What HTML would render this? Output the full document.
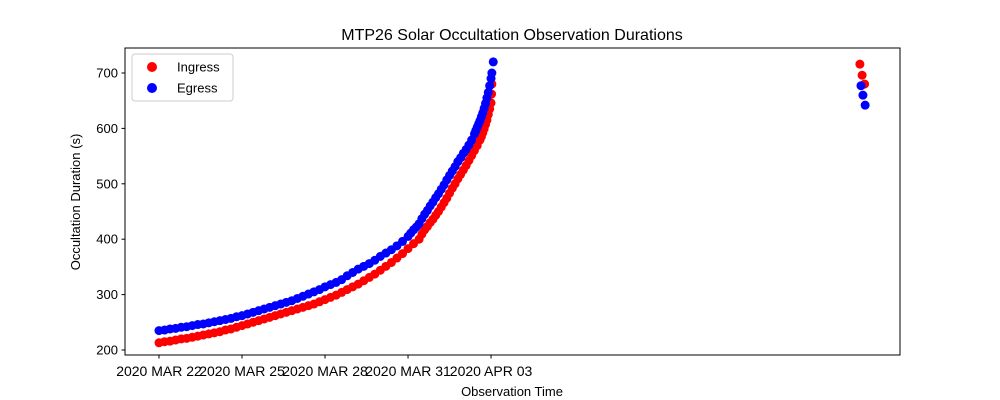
<!DOCTYPE html>
<html><head><meta charset="utf-8"><style>
body{margin:0;background:#fff;}
svg{display:block;font-family:"Liberation Sans","DejaVu Sans",sans-serif;}
</style></head><body>
<svg id="chart" width="1000" height="400">
<rect x="0" y="0" width="1000" height="400" fill="#fff"/>
<text x="512" y="40" font-size="16" text-anchor="middle">MTP26 Solar Occultation Observation Durations</text>
<text x="512" y="396" font-size="13" text-anchor="middle">Observation Time</text>
<text transform="translate(80,202) rotate(-90)" font-size="13" text-anchor="middle">Occultation Duration (s)</text>
<g id="marks"></g>
<g id="axes"></g>
<g>
<rect x="132" y="54" width="101" height="47" rx="3" fill="#fff" fill-opacity="0.8" stroke="#ccc"/>
<circle cx="152" cy="67" r="5" fill="red"/>
<text x="177" y="71.5" font-size="13">Ingress</text>
<circle cx="152" cy="88" r="5" fill="blue"/>
<text x="177" y="92.5" font-size="13">Egress</text>
</g>
</svg>
<script>
// days since 2020 MAR 22
const ingressDays=[0,.2,.4,.6,.8,1,1.2,1.4,1.6,1.8,2,2.2,2.4,2.6,2.8,3,3.2,3.4,3.6,3.8,4,4.2,4.4,4.6,4.8,5,5.2,5.4,5.6,5.8,6,6.2,6.4,6.6,6.8,7,7.2,7.4,7.6,7.8,8,8.2,8.4,8.6,8.8,9,9.2,9.4,9.5,9.6,9.7,9.8,9.9,10,10.1,10.2,10.3,10.4,10.5,10.6,10.7,10.8,10.9,11,11.1,11.2,11.3,11.4,11.5,11.6,11.65,11.7,11.75,11.8,11.85,11.9,11.95,12,12.02,12.03,25.33,25.41,25.5];
const ingressValues=[213,215,216,218,220,221,223,225,227,229,231,233,236,238,241,244,247,250,253,256,259,262,265,268,271,274,277,280,283,287,291,295,299,304,309,314,319,325,331,337,344,351,358,366,374,383,392,400,409,417,423,430,436,443,450,458,466,474,483,492,500,509,517,525,533,542,551,560,569,579,585,592,599,607,615,625,635,646,662,680,716,696,680];
const egressDays=[0,.2,.4,.6,.8,1,1.2,1.4,1.6,1.8,2,2.2,2.4,2.6,2.8,3,3.2,3.4,3.6,3.8,4,4.2,4.4,4.6,4.8,5,5.2,5.4,5.6,5.8,6,6.2,6.4,6.6,6.8,7,7.2,7.4,7.6,7.8,8,8.2,8.4,8.6,8.8,9,9.1,9.2,9.3,9.4,9.5,9.6,9.7,9.8,9.9,10,10.1,10.2,10.3,10.4,10.5,10.6,10.7,10.8,10.9,11,11.1,11.2,11.3,11.4,11.45,11.5,11.55,11.6,11.65,11.7,11.75,11.8,11.85,11.9,11.95,12,12.03,12.08,25.37,25.44,25.52];
const egressValues=[235,236,238,239,241,242,244,246,247,249,251,253,255,257,260,262,265,268,271,274,277,280,283,286,289,293,297,301,305,309,314,318,322,327,334,340,346,351,356,362,369,375,381,388,396,405,411,417,422,428,437,445,452,460,467,475,482,490,498,507,515,523,531,540,547,555,562,570,579,590,596,602,608,614,621,628,636,645,655,665,677,690,700,720,677,660,642];
const yTicks=[200,300,400,500,600,700];
const xTickDays=[0,3,6,9,12];
const xTickLabels=["2020 MAR 22","2020 MAR 25","2020 MAR 28","2020 MAR 31","2020 APR 03"];

const NS="http://www.w3.org/2000/svg";
const X0=125,X1=900,Y0=48,Y1=355;
function xScale(d){return 159+d*27.67;}
function yScale(v){return 73+(700-v)*0.554;}
function mk(tag,attrs,parent){const e=document.createElementNS(NS,tag);for(const k in attrs)e.setAttribute(k,attrs[k]);parent.appendChild(e);return e;}
const marks=document.getElementById('marks');
ingressDays.forEach((d,i)=>{
  const c=mk('circle',{cx:xScale(d),cy:yScale(ingressValues[i]),r:4.5,fill:'red'},marks);
  
  
});
egressDays.forEach((d,i)=>{
  const c=mk('circle',{cx:xScale(d),cy:yScale(egressValues[i]),r:4.5,fill:'blue'},marks);
  
  
});
const axes=document.getElementById('axes');
const frame=mk('rect',{x:X0,y:Y0,width:X1-X0,height:Y1-Y0,fill:'none',stroke:'#000','stroke-width':1},axes);


yTicks.forEach(v=>{
  const y=yScale(v);
  mk('line',{x1:X0-3.5,x2:X0,y1:y,y2:y,stroke:'#000'},axes);
  const t=mk('text',{x:X0-7,y:y+4.5,'font-size':13,'text-anchor':'end'},axes);
  t.textContent=v;
  
  
});
xTickDays.forEach((d,i)=>{
  const x=xScale(d);
  mk('line',{x1:x,x2:x,y1:Y1,y2:Y1+3.5,stroke:'#000'},axes);
  const t=mk('text',{x:x,y:Y1+21,'font-size':14,'text-anchor':'middle'},axes);
  t.textContent=xTickLabels[i];
  
  
});
</script>
</body></html>
